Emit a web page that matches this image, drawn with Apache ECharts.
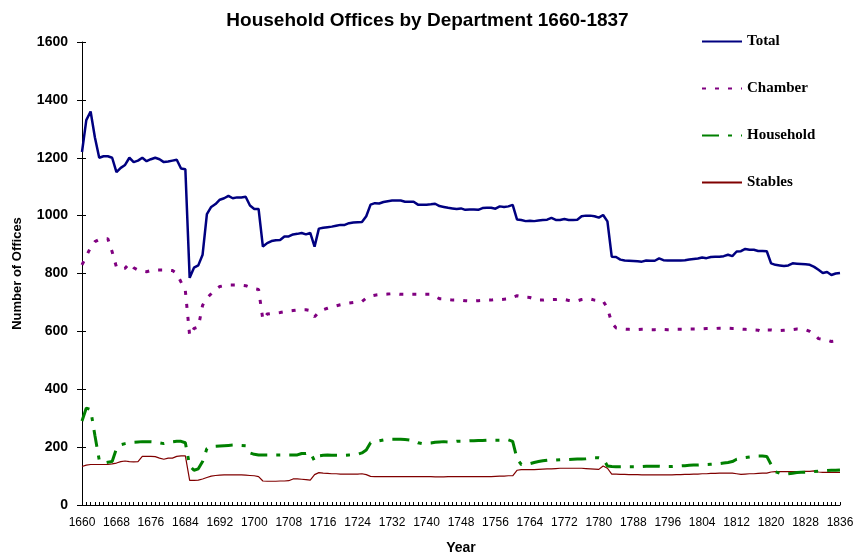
<!DOCTYPE html>
<html>
<head>
<meta charset="utf-8">
<script src="https://cdn.jsdelivr.net/npm/echarts@6/dist/echarts.min.js"></script>
<style>html,body{margin:0;padding:0;background:#fff;}#c{width:855px;height:554px;}</style>
</head>
<body>
<div id="c"></div>
<script>
var firstYear = 1660, lastYear = 1836;
var years = [];
for (var y = firstYear; y <= lastYear; y++) years.push(String(y));

var total = [
1220,1330,1360,1270,1200,1205,1205,1200,1150,1165,
1175,1200,1185,1190,1200,1188,1195,1200,1195,1185,
1187,1190,1193,1163,1160,785,820,828,865,1005,
1030,1040,1055,1060,1068,1060,1063,1063,1065,1035,
1023,1023,893,905,912,915,916,928,928,935,
937,940,935,940,893,955,958,960,962,965,
968,968,974,976,977,978,998,1038,1043,1042,
1047,1050,1052,1052,1052,1048,1048,1048,1038,1038,
1038,1039,1041,1033,1030,1027,1025,1023,1025,1020,
1021,1021,1020,1026,1027,1027,1024,1032,1030,1032,
1037,987,985,981,982,981,983,985,986,992,
985,985,988,985,985,986,998,1000,1000,998,
993,1002,980,858,857,848,845,844,843,842,
841,845,844,844,852,846,845,845,845,845,
846,848,850,852,855,853,857,858,858,860,
865,860,876,877,885,882,882,878,878,877,
835,830,828,826,828,835,834,833,832,830,
823,813,802,805,795,800,802];

var chamber = [
830,860,890,910,918,920,920,875,822,815,
818,835,820,812,808,806,810,812,812,812,
812,810,800,770,740,585,610,615,690,715,
730,745,755,758,760,760,760,760,758,752,
748,745,640,660,662,663,665,668,670,672,
674,675,675,672,650,668,675,680,685,688,
692,695,698,700,700,703,715,722,725,727,
728,729,730,730,728,728,728,728,728,728,
728,728,720,713,712,710,708,708,708,706,
705,705,706,707,708,708,710,710,711,712,
718,723,720,718,717,712,708,708,710,710,
710,712,710,707,705,705,710,713,712,708,
706,705,680,630,612,610,608,607,606,606,
607,607,606,606,607,607,606,606,607,607,
607,608,608,608,609,610,610,610,611,611,
611,610,610,608,607,606,605,604,598,605,
605,603,603,604,605,606,608,607,606,600,
590,575,572,570,565,567,570];

var household = [
290,335,330,240,155,145,148,150,195,208,
212,215,217,218,219,219,219,218,215,212,
215,218,220,220,215,135,120,125,150,195,
200,203,204,205,206,207,207,206,205,180,
175,173,173,173,173,173,173,173,173,173,
173,178,178,182,152,170,172,173,172,172,
172,172,173,174,175,180,190,215,220,222,
225,226,227,227,227,226,225,222,215,212,
213,214,217,218,219,218,217,220,220,221,
222,222,223,223,224,224,224,224,225,225,
220,160,140,140,143,147,150,153,155,157,
155,156,157,157,158,159,159,160,162,163,
163,160,135,133,132,132,132,132,132,132,
133,134,134,134,134,133,133,133,134,135,
136,137,138,138,139,140,141,142,143,145,
147,150,158,162,164,166,168,169,169,168,
140,115,110,106,108,110,112,113,113,115,
116,117,118,119,120,120,121];

var stables = [
133,138,140,140,140,140,140,142,145,150,
152,150,149,150,168,168,168,167,162,158,
162,162,168,170,170,85,85,86,90,95,
100,102,103,104,104,104,104,104,103,102,
101,98,83,82,82,82,83,83,84,90,
90,89,88,86,105,112,110,109,108,108,
107,107,107,107,107,108,105,99,98,98,
98,98,98,98,98,98,98,98,98,98,
98,98,97,97,97,98,98,98,98,98,
98,98,98,98,98,98,99,100,100,101,
101,120,122,122,122,122,123,124,125,125,
126,127,127,127,127,127,127,126,125,124,
123,135,127,107,107,106,106,105,105,105,
104,104,104,104,104,104,104,104,105,105,
106,106,107,107,108,108,109,109,110,110,
110,110,108,106,107,108,108,109,110,110,
114,115,115,115,115,115,115,115,116,116,
118,114,113,113,113,113,113];

var seriesNames = ['Total', 'Chamber', 'Household', 'Stables'];
var yTicks = [0, 200, 400, 600, 800, 1000, 1200, 1400, 1600];

var chart = echarts.init(document.getElementById('c'), null, {renderer: 'canvas'});
var sans = '"Liberation Sans", Arial, sans-serif';
var serif = '"Liberation Serif", "Times New Roman", serif';
var yMin = yTicks[0], yMax = yTicks[yTicks.length - 1], yStep = yTicks[1] - yTicks[0];

chart.setOption({
  animation: false,
  backgroundColor: '#fff',
  title: {
    text: 'Household Offices by Department 1660-1837',
    left: 'center', top: 6,
    textStyle: {fontFamily: sans, fontWeight: 'bold', fontSize: 19, color: '#000'}
  },
  legend: {
    orient: 'vertical', left: 696, top: 29,
    itemWidth: 40, itemHeight: 14, itemGap: 32,
    data: seriesNames,
    itemStyle: {opacity: 0},
    textStyle: {fontFamily: serif, fontWeight: 'bold', fontSize: 15, color: '#000'}
  },
  grid: {left: 82, right: 15, top: 42, bottom: 49, containLabel: false, outerBoundsMode: 'none'},
  xAxis: {
    type: 'category', data: years, boundaryGap: false,
    name: 'Year', nameLocation: 'middle', nameGap: 36,
    nameTextStyle: {fontFamily: sans, fontWeight: 'bold', fontSize: 14, color: '#000'},
    axisLine: {lineStyle: {color: '#000', width: 1}},
    axisTick: {interval: 0, inside: true, length: 3, lineStyle: {color: '#000'}},
    axisLabel: {interval: 7, margin: 12, fontFamily: sans, fontSize: 12, color: '#000'},
    splitLine: {show: false}
  },
  yAxis: [{
    type: 'value', min: yMin, max: yMax, interval: yStep,
    name: 'Number of Offices', nameLocation: 'middle', nameGap: 58,
    nameTextStyle: {fontFamily: sans, fontWeight: 'bold', fontSize: 13, color: '#000'},
    axisLine: {show: true, lineStyle: {color: '#000', width: 1}},
    axisTick: {show: true, length: 5, lineStyle: {color: '#000'}},
    axisLabel: {margin: 14, fontFamily: sans, fontWeight: 'bold', fontSize: 14, color: '#000',
      formatter: function (v) { return String(v); }},
    splitLine: {show: false}
  }, {
    type: 'value', min: yMin, max: yMax, interval: yStep, position: 'left',
    axisLine: {show: false},
    axisTick: {show: true, inside: true, length: 4, lineStyle: {color: '#000'}},
    axisLabel: {show: false},
    splitLine: {show: false}
  }],
  series: [
    {name: 'Total', type: 'line', data: total, symbol: 'none', z: 5,
     lineStyle: {color: '#000080', width: 2.5}, itemStyle: {color: '#000080'}},
    {name: 'Chamber', type: 'line', data: chamber, symbol: 'none', z: 4,
     lineStyle: {color: '#800080', width: 3, type: [4, 9]}, itemStyle: {color: '#800080'}},
    {name: 'Household', type: 'line', data: household, symbol: 'none', z: 3,
     lineStyle: {color: '#008000', width: 3, type: [17, 9, 4, 9]}, itemStyle: {color: '#008000'}},
    {name: 'Stables', type: 'line', data: stables, symbol: 'none', z: 2,
     lineStyle: {color: '#800000', width: 1.2}, itemStyle: {color: '#800000'}}
  ]
});
</script>
</body>
</html>
